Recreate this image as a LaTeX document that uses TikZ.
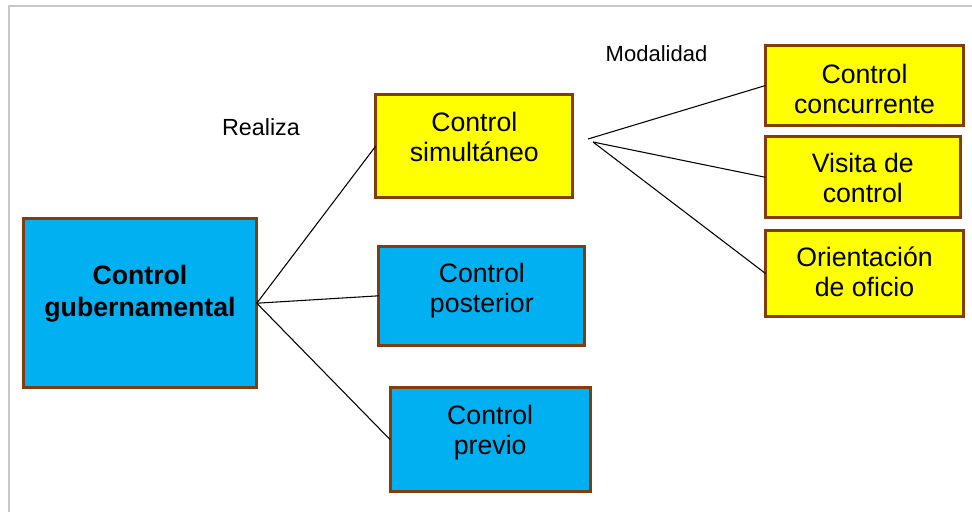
\documentclass[tikz,border=0pt]{standalone}
\usepackage{fontspec}
\setmainfont{Liberation Sans}
\definecolor{brd}{HTML}{843C0C}
\definecolor{cyanbox}{HTML}{00B0F0}
\definecolor{yelbox}{HTML}{FFFF00}
\definecolor{framec}{HTML}{C8C8C8}
\newcommand\twoline[2]{\begin{tabular}[b]{@{}c@{}}#1\\#2\end{tabular}}
\tikzset{
  boxbase/.style={draw=brd, line width=2.25pt, inner sep=0pt, outer sep=0pt,
    font=\fontsize{20}{22.5}\selectfont, text height=36.8pt, text depth=0pt},
  bluebox/.style={boxbase, fill=cyanbox},
  yelbox/.style={boxbase, fill=yelbox},
  conn/.style={draw=black, line width=0.8pt},
  lbl/.style={anchor=base, inner sep=0pt}
}
\begin{document}
\begin{tikzpicture}[x=0.75pt, y=-0.75pt]
\useasboundingbox (0,0) rectangle (972,512);
\draw[framec, line width=1.2pt] (9,512) -- (9,6) -- (972,6);

\node[bluebox, minimum width=175.2pt, minimum height=126.5pt,
  font=\fontsize{20}{24}\selectfont\bfseries, text height=38.3pt, text depth=18pt]
  (gub) at (140,303.2) {\twoline{Control}{gubernamental}};
\node[yelbox, minimum width=147.75pt, minimum height=77.7pt, text depth=14.3pt]
  (sim) at (474.3,146) {\twoline{Control}{simultáneo}};
\node[bluebox, minimum width=154.5pt, minimum height=74pt, text depth=12pt]
  (post) at (481.8,295.8) {\twoline{Control}{posterior}};
\node[bluebox, minimum width=150pt, minimum height=78.2pt, text depth=14.3pt]
  (prev) at (490.2,439.7) {\twoline{Control}{previo}};
\node[yelbox, minimum width=148.5pt, minimum height=59.5pt, text height=41.3pt]
  (conc) at (864.5,85.5) {\twoline{Control}{concurrente}};
\node[yelbox, minimum width=146pt, minimum height=60.75pt, text height=37.7pt]
  (vis) at (862.8,177.3) {\twoline{Visita de}{control}};
\node[yelbox, minimum width=148.5pt, minimum height=65pt, text depth=2.6pt]
  (ori) at (864.5,273.5) {\twoline{Orientación}{de oficio}};

\node[lbl, font=\fontsize{17.5}{20}\selectfont] (realiza) at (261,135) {Realiza};
\node[lbl, font=\fontsize{16.5}{19}\selectfont] (modal) at (656.5,61) {Modalidad};

\coordinate (m1) at (588,139);
\coordinate (m2) at (593,142);

\draw[conn] (gub.east) -- (sim.west);
\draw[conn] (gub.east) -- (post.west);
\draw[conn] (gub.east) -- (prev.west);
\draw[conn] (m1) -- (conc.west);
\draw[conn] (m2) -- (vis.west);
\draw[conn] (m2) -- (ori.west);
\end{tikzpicture}
\end{document}
